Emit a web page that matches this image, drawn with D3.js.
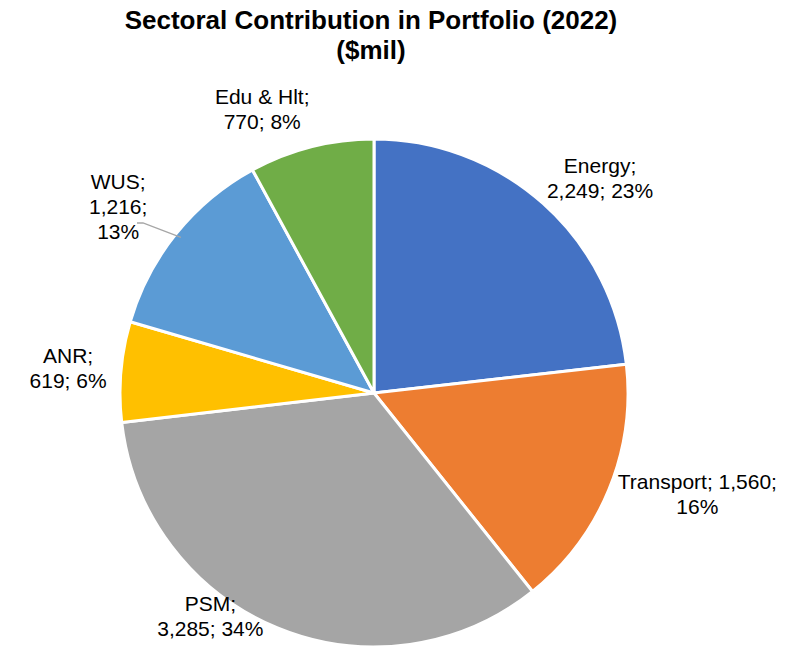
<!DOCTYPE html>
<html>
<head>
<meta charset="utf-8">
<script src="https://cdn.jsdelivr.net/npm/d3@7"></script>
<style>
  body { margin: 0; background: #fff; }
  text { font-family: "Liberation Sans", Arial, sans-serif; fill: #000; }
</style>
</head>
<body>
<div id="chart"></div>
<script>
var sectors = ["Energy", "Transport", "PSM", "ANR", "WUS", "Edu & Hlt"];
var amounts = [2249, 1560, 3285, 619, 1216, 770];
var colors = ["#4472C4", "#ED7D31", "#A5A5A5", "#FFC000", "#5B9BD5", "#70AD47"];
// how each label wraps (Excel style)
var labelLines = [
    ["Energy;", "2,249; 23%"],
    ["Transport; 1,560;", "16%"],
    ["PSM;", "3,285; 34%"],
    ["ANR;", "619; 6%"],
    ["WUS;", "1,216;", "13%"],
    ["Edu & Hlt;", "770; 8%"]
];

var width = 799,
    height = 656,
    cx = 374,
    cy = 393,
    radius = 254;

var svg = d3.select("#chart")
    .append("svg")
    .attr("width", width)
    .attr("height", height);

// title
svg.append("text").attr("x", 371).attr("y", 29).attr("text-anchor", "middle")
    .style("font-size", "26px").style("font-weight", "bold")
    .text("Sectoral Contribution in Portfolio (2022)");
svg.append("text").attr("x", 371).attr("y", 59).attr("text-anchor", "middle")
    .style("font-size", "26px").style("font-weight", "bold")
    .text("($mil)");

var pie = d3.pie().sort(null).value(function (d) { return d; });
var arcs = pie(amounts);

var arc = d3.arc().innerRadius(0).outerRadius(radius);
var labelArc = d3.arc().innerRadius(radius + 45).outerRadius(radius + 45);

var g = svg.append("g").attr("transform", "translate(" + cx + "," + cy + ")");

g.selectAll("path")
    .data(arcs)
    .enter()
    .append("path")
    .attr("d", arc)
    .attr("fill", function (d, i) { return colors[i]; })
    .style("stroke", "white")
    .style("stroke-width", 3)
    .style("stroke-linejoin", "round");

// nudges from the label arc, to sit where Excel put them
var nudge = [[27, 9], [47, -13], [-50, -53], [-8, 0], [-23, 2], [-38, 6]];

// leader line for WUS
var wus = arcs[4];
var edge = d3.arc().innerRadius(radius - 6).outerRadius(radius - 6).centroid(wus);
g.append("polyline")
    .attr("points", [edge, [-231, -170], [-237, -170]].map(function (p) { return p.join(","); }).join(" "))
    .style("fill", "none")
    .style("stroke", "#A6A6A6")
    .style("stroke-width", 1.3);

var lineH = 25;
arcs.forEach(function (d, i) {
    var c = labelArc.centroid(d);
    var x = c[0] + nudge[i][0],
        y = c[1] + nudge[i][1];
    var lines = labelLines[i];
    var t = g.append("text")
        .attr("text-anchor", "middle")
        .style("font-size", "21px");
    lines.forEach(function (s, j) {
        t.append("tspan")
            .attr("x", x)
            .attr("y", y + (j - (lines.length - 1) / 2) * lineH + 7)
            .text(s);
    });
});
</script>
</body>
</html>
